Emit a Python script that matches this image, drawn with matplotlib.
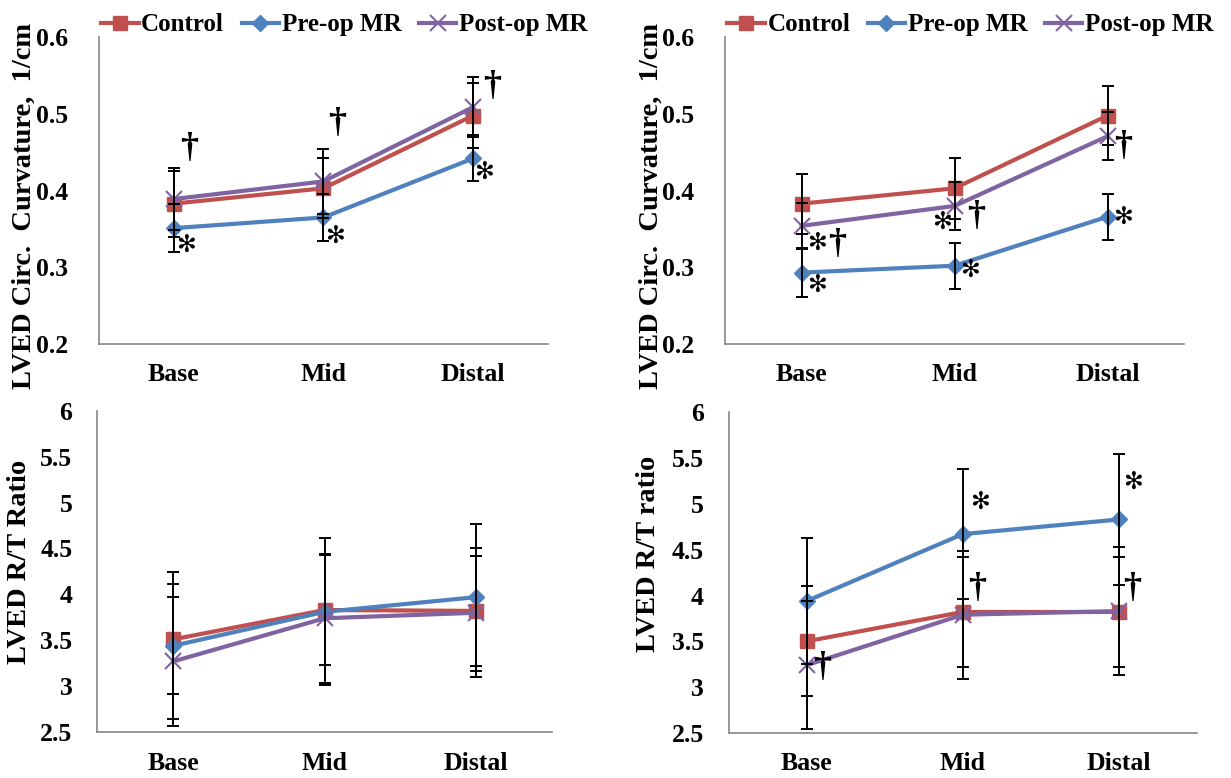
import matplotlib
matplotlib.use("Agg")
import matplotlib.pyplot as plt
from matplotlib.ticker import FuncFormatter

plt.rcParams['font.family'] = ['Liberation Serif', 'DejaVu Serif']
plt.rcParams['font.weight'] = 'bold'
plt.rcParams['axes.labelweight'] = 'bold'

categories = ["Base", "Mid", "Distal"]
series_names = ["Control", "Pre-op MR", "Post-op MR"]
colors = ["#C0504D", "#4F81BD", "#8064A2"]
markers = ["s", "D", "x"]

# top left: curvature
curv_a = [[0.383, 0.403, 0.498], [0.351, 0.365, 0.442], [0.389, 0.412, 0.509]]
curv_a_err = [[0.043, 0.039, 0.042], [0.031, 0.031, 0.030], [0.040, 0.042, 0.039]]
# top right: curvature
curv_b = [[0.383, 0.403, 0.498], [0.293, 0.302, 0.366], [0.354, 0.380, 0.471]]
curv_b_err = [[0.039, 0.040, 0.039], [0.032, 0.030, 0.030], [0.030, 0.031, 0.031]]
# bottom left: R/T ratio
rt_a = [[3.51, 3.83, 3.82], [3.44, 3.81, 3.97], [3.27, 3.74, 3.80]]
rt_a_err = [[0.60, 0.60, 0.60], [0.80, 0.80, 0.80], [0.70, 0.70, 0.70]]
# bottom right: R/T ratio
rt_b = [[3.50, 3.82, 3.82], [3.94, 4.67, 4.83], [3.24, 3.79, 3.83]]
rt_b_err = [[0.60, 0.60, 0.60], [0.69, 0.71, 0.71], [0.70, 0.70, 0.70]]

ast = "\u273b"
dag = "\u2020"
# significance marks: (category index, offset, y, symbol)
marks_a = [(0, 0.08, 0.329, ast), (1, 0.08, 0.341, ast), (2, 0.07, 0.424, ast),
           (0, 0.10, 0.455, dag), (1, 0.09, 0.487, dag), (2, 0.13, 0.536, dag)]
marks_b = [(0, 0.10, 0.277, ast), (0, 0.10, 0.332, ast), (0, 0.23, 0.330, dag),
           (1, -0.08, 0.359, ast), (1, 0.14, 0.366, dag), (1, 0.10, 0.297, ast),
           (2, 0.10, 0.458, dag), (2, 0.10, 0.366, ast)]
marks_d = [(1, 0.11, 5.02, ast), (2, 0.09, 5.24, ast), (1, 0.09, 4.08, dag),
           (2, 0.09, 4.08, dag), (0, 0.10, 3.21, dag)]

fig = plt.figure(figsize=(12.31, 7.78), dpi=100)
ax_tl = fig.add_axes([0.0804, 0.558, 0.3647, 0.394])
ax_tr = fig.add_axes([0.589, 0.558, 0.3729, 0.394])
ax_bl = fig.add_axes([0.0792, 0.059, 0.3690, 0.413])
ax_br = fig.add_axes([0.592, 0.058, 0.3800, 0.412])


def draw(ax, vals, errs, ylim, ystep, ylabel, label_pos, marks, ypad,
         legend=False):
    x = list(range(len(categories)))
    for v, e in zip(vals, errs):
        ax.errorbar(x, v, yerr=e, fmt="none", ecolor="black", elinewidth=1.4,
                    capsize=4, capthick=1.4, zorder=4)
    for v, name, c, m in zip(vals, series_names, colors, markers):
        ms = 11 if m == "x" else (10 if m == "s" else 8)
        ax.plot(x, v, color=c, lw=3, marker=m, ms=ms, mew=1.5 if m == "x" else 1,
                mfc=c, mec=c, label=name, zorder=3)
    ax.set_xlim(-0.5, len(categories) - 0.5)
    ax.set_ylim(*ylim)
    ticks = []
    t = ylim[0]
    while t <= ylim[1] + 1e-9:
        ticks.append(round(t, 3))
        t += ystep
    ax.set_yticks(ticks)
    ax.yaxis.set_major_formatter(FuncFormatter(lambda v, p: "%g" % v))
    ax.set_xticks(x)
    ax.set_xticklabels(categories)
    ax.tick_params(length=0, labelsize=18.5, pad=14)
    ax.tick_params(axis="y", pad=ypad)
    for s in ("top", "right"):
        ax.spines[s].set_visible(False)
    for s in ("left", "bottom"):
        ax.spines[s].set_color("#868686")
        ax.spines[s].set_linewidth(1.2)
    ax.set_ylabel(ylabel, fontsize=20.5, fontweight="bold")
    ax.yaxis.set_label_coords(*label_pos)
    for xi, dx, yv, sym in marks:
        fam = ['DejaVu Sans'] if sym == ast else ['Liberation Serif']
        size = 17 if sym == ast else 26
        ax.text(xi + dx, yv, sym, fontsize=size, family=fam, ha="center",
                va="center", fontweight="bold", zorder=5)
    if legend:
        ax.legend(loc="lower left", bbox_to_anchor=(0.005, 1.003), ncol=3,
                  frameon=False, fontsize=18, handlelength=1.5,
                  columnspacing=0.7, handletextpad=0.1, borderaxespad=0,
                  borderpad=0)


draw(ax_tl, curv_a, curv_a_err, (0.2, 0.6), 0.1,
     "LVED Circ.  Curvature,  1/cm", (-0.138, 0.45), marks_a, 22, legend=True)
draw(ax_tr, curv_b, curv_b_err, (0.2, 0.6), 0.1,
     "LVED Circ.  Curvature,  1/cm", (-0.133, 0.45), marks_b, 22, legend=True)
draw(ax_bl, rt_a, rt_a_err, (2.5, 6.0), 0.5, "LVED R/T Ratio",
     (-0.145, 0.53), [], 18)
draw(ax_br, rt_b, rt_b_err, (2.5, 6.0), 0.5, "LVED R/T ratio",
     (-0.145, 0.56), marks_d, 18)

fig.savefig("out.png", dpi=100)
